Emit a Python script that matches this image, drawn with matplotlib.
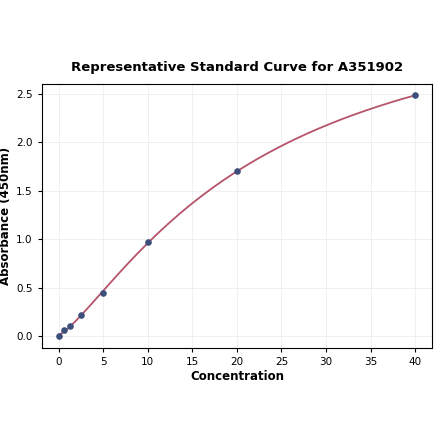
import numpy as np
import matplotlib
matplotlib.use("Agg")
import matplotlib.pyplot as plt

conc = [0, 0.625, 1.25, 2.5, 5, 10, 20, 40]
absorb = [0.0, 0.06, 0.11, 0.22, 0.45, 0.97, 1.70, 2.48]

x = np.array(conc, float)
y = np.array(absorb, float)

# 4PL fit: y = d + (a - d) / (1 + (x/c)^b); grid over b, c; linear solve for a, d
best = None
for b in np.linspace(0.8, 3.0, 111):
    for c in np.linspace(5, 80, 301):
        g = 1.0 / (1.0 + (x / c) ** b)
        A = np.column_stack([g, 1 - g])
        sol, *_ = np.linalg.lstsq(A, y, rcond=None)
        r = np.sum((A @ sol - y) ** 2)
        if best is None or r < best[0]:
            best = (r, b, c, sol)
_, b, c, (a, d) = best
xs = np.linspace(0, 40, 400)
ys = d + (a - d) / (1 + (xs / c) ** b)

fig = plt.figure(figsize=(4.4, 4.41), dpi=100)
ax = fig.add_axes([0.095, 0.211, 0.887, 0.599])

ax.plot(xs, ys, color="#b5546a", lw=1.3, zorder=2)
ax.scatter(conc, absorb, s=14, color="#3b4f7a", zorder=3)

ax.set_xlim(-1.9, 41.9)
ax.set_ylim(-0.12, 2.6)
ax.set_xticks(range(0, 41, 5))
ax.set_yticks([0, 0.5, 1.0, 1.5, 2.0, 2.5])
ax.tick_params(labelsize=7.5, length=3)
ax.grid(True, color="#eeeeee", lw=0.6)
ax.set_axisbelow(True)
ax.set_xlabel("Concentration", fontsize=8.5, fontweight="bold", labelpad=2)
ax.set_ylabel("Absorbance (450nm)", fontsize=8.5, fontweight="bold", labelpad=3)
ax.set_title("Representative Standard Curve for A351902", fontsize=9.5, fontweight="bold", pad=9)
fig.savefig("out.png", dpi=100)
